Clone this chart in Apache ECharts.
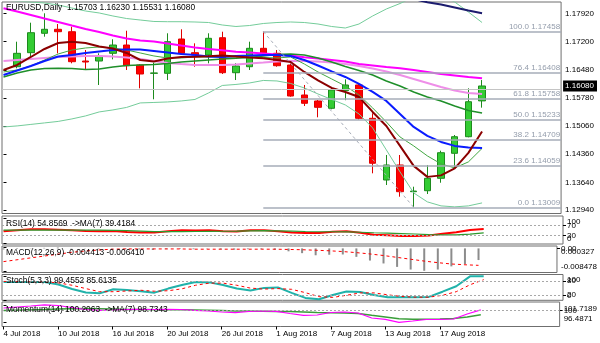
<!DOCTYPE html>
<html><head><meta charset="utf-8">
<script src="https://cdn.jsdelivr.net/npm/echarts@6/dist/echarts.min.js"></script>
<style>html,body{margin:0;padding:0;background:#fff}#c{width:600px;height:343px}</style>
</head><body><div id="c"></div>
<script>
// ---------- DATA ----------
const dateLabels = ['4 Jul 2018','10 Jul 2018','16 Jul 2018','20 Jul 2018','26 Jul 2018','1 Aug 2018','7 Aug 2018','13 Aug 2018','17 Aug 2018'];
const dateLabelBars = [0,4,8,12,16,20,24,28,32];

const open  = [null,1.16568,1.16923,1.17414,1.17515,1.17454,1.16712,1.16712,1.16907,1.17117,1.16611,1.16400,1.16401,1.17269,1.16923,1.16864,1.17302,1.16416,1.16568,1.17034,1.16907,1.16611,1.15852,1.15700,1.15515,1.15961,1.16105,1.15262,1.13700,1.14080,1.13404,1.13429,1.13743,1.14376,1.14796,1.15703];
const high  = [null,1.17201,1.17682,1.17920,1.17649,1.17581,1.16991,1.16907,1.17262,1.17479,1.16630,1.16669,1.17414,1.17515,1.17160,1.17414,1.17454,1.16654,1.17201,1.17458,1.16991,1.16654,1.16105,1.15725,1.16047,1.16249,1.16150,1.15388,1.14333,1.14333,1.13530,1.14080,1.14442,1.14839,1.16021,1.16230];
const low   = [null,1.16528,1.16821,1.17328,1.16907,1.16654,1.16502,1.16105,1.16755,1.16485,1.16021,1.15743,1.16231,1.16864,1.16568,1.16654,1.16383,1.16231,1.16485,1.16882,1.16568,1.15809,1.15573,1.15287,1.15490,1.15720,1.15230,1.13869,1.13573,1.13277,1.13009,1.13345,1.13631,1.13996,1.14781,1.15531];
const close = [null,1.16907,1.17429,1.17515,1.17454,1.16695,1.16687,1.16839,1.17117,1.16593,1.16383,1.16410,1.17201,1.16907,1.16864,1.17287,1.16416,1.16586,1.17034,1.16907,1.16593,1.15826,1.15642,1.15540,1.15978,1.16105,1.15262,1.14123,1.14080,1.13404,1.13420,1.13743,1.14391,1.14796,1.15682,1.16080];

const maMagenta = [1.18049,1.17966,1.17877,1.17788,1.17700,1.17611,1.17523,1.17447,1.17358,1.17282,1.17232,1.17206,1.17156,1.17105,1.17055,1.17017,1.16984,1.16948,1.16928,1.16903,1.16878,1.16852,1.16807,1.16776,1.16738,1.16701,1.16637,1.16599,1.16561,1.16528,1.16486,1.16435,1.16384,1.16346,1.16308,1.16276];
const maViolet  = [1.16713,1.16738,1.16764,1.16789,1.16814,1.16827,1.16840,1.16840,1.16827,1.16802,1.16764,1.16713,1.16663,1.16637,1.16612,1.16612,1.16612,1.16625,1.16650,1.16675,1.16701,1.16713,1.16713,1.16701,1.16675,1.16637,1.16587,1.16523,1.16448,1.16359,1.16258,1.16157,1.16055,1.15967,1.15904,1.15878];
const maBlue    = [1.16359,1.16473,1.16587,1.16713,1.16827,1.16865,1.16916,1.16954,1.16991,1.17004,1.17004,1.16966,1.16928,1.16890,1.16865,1.16827,1.16814,1.16840,1.16852,1.16865,1.16865,1.16840,1.16738,1.16599,1.16448,1.16308,1.16131,1.15929,1.15701,1.15372,1.15043,1.14816,1.14664,1.14563,1.14525,1.14512];
const maMaroon  = [1.16485,1.16612,1.16814,1.17017,1.17169,1.17201,1.17169,1.17080,1.17029,1.16916,1.16738,1.16701,1.16776,1.16814,1.16822,1.16835,1.16852,1.16827,1.16802,1.16782,1.16738,1.16688,1.16435,1.16220,1.16030,1.15929,1.15802,1.15423,1.15068,1.14563,1.14057,1.13779,1.13817,1.13993,1.14386,1.14930];
const maGreen   = [1.16308,1.16410,1.16485,1.16523,1.16528,1.16523,1.16498,1.16511,1.16561,1.16599,1.16612,1.16625,1.16650,1.16688,1.16713,1.16738,1.16764,1.16782,1.16802,1.16840,1.16878,1.16890,1.16865,1.16789,1.16688,1.16574,1.16473,1.16359,1.16207,1.16081,1.15929,1.15802,1.15701,1.15575,1.15461,1.15397];
const maThinGreen = [1.16435,1.16485,1.16587,1.16738,1.16890,1.16991,1.17042,1.17067,1.17042,1.16991,1.16916,1.16840,1.16789,1.16789,1.16814,1.16814,1.16814,1.16814,1.16814,1.16802,1.16789,1.16814,1.16637,1.16435,1.16258,1.16081,1.15853,1.15524,1.15170,1.14790,1.14563,1.14310,1.14108,1.14006,1.14158,1.14500];
const maNavy    = [1.1885,1.1884,1.1883,1.1882,1.1881,1.1880,1.1879,1.1878,1.1877,1.1876,1.1875,1.1874,1.1873,1.1872,1.1871,1.1870,1.1869,1.1868,1.1867,1.1866,1.1865,1.1864,1.1862,1.1860,1.1858,1.1855,1.1852,1.1848,1.1843,1.1836,1.18282,1.18201,1.18143,1.18067,1.17991,1.17920];
const bbUpper   = [1.18256,1.18231,1.18206,1.18181,1.18130,1.18054,1.17978,1.17928,1.17852,1.17788,1.17750,1.17713,1.17707,1.17707,1.17700,1.17687,1.17624,1.17586,1.17611,1.17662,1.17687,1.17700,1.17687,1.17649,1.17586,1.17548,1.17649,1.17852,1.18029,1.18168,1.18332,1.18383,1.18358,1.18206,1.17953,1.17687];
const bbLower   = [1.15043,1.15069,1.15107,1.15145,1.15183,1.15246,1.15322,1.15423,1.15474,1.15537,1.15651,1.15663,1.15676,1.15701,1.15739,1.15904,1.16093,1.16119,1.16157,1.16220,1.16207,1.16144,1.16030,1.15878,1.15739,1.15600,1.15372,1.15018,1.14462,1.13905,1.13373,1.13146,1.13045,1.13020,1.13045,1.13120];

const fibPct    = ['0.0','23.6','38.2','50.0','61.8','76.4','100.0'];
const fibLevels = [1.13009,1.14059,1.14709,1.15233,1.15758,1.16408,1.17458];
const fibHighBar = 19, fibLowBar = 30;

const priceTicks = [1.1294,1.1364,1.1436,1.1506,1.1578,1.1648,1.1720,1.1792];

const rsi   = [46,50,54,54,52,50,47,46,47,43,41,41,46,50,49,50,46,45,50,50,46,41,39,39,44,46,40,32,30,27,27,29,36,42,51,54.8569];
const rsiMa = [51,51,51,51,51,51,50.4,50.4,50,48.4,46.6,45,44.4,44.9,45.3,45.7,46.1,46.7,48,48.6,48,46.9,45.3,44.3,44.1,43.6,42.1,40.1,38.6,36.9,35.1,33,31.6,31.9,34.6,39.4184];
const rsiTicks = [0,30,70,100];
const rsiLevels = [30,70];

const macdMain = [-0.0004,-0.0002,0.0001,0.0002,0.000327,0.0001,-0.0001,-0.0002,-0.0001,-0.0002,-0.0004,-0.0006,-0.0003,-0.0002,-0.0003,-0.0001,-0.0004,-0.0005,-0.0003,-0.0003,-0.0005,-0.0011,-0.0018,-0.0026,-0.0024,-0.0023,-0.0032,-0.0046,-0.0057,-0.0070,-0.0080,-0.008478,-0.0080,-0.0068,-0.0059,-0.004413];
const macdSignal = [-0.0050,-0.0043,-0.0036,-0.0029,-0.0022,-0.0015,-0.0010,-0.0006,-0.0003,-0.0002,-0.0002,-0.0002,-0.0002,-0.0002,-0.0003,-0.0003,-0.0003,-0.0003,-0.0003,-0.0003,-0.0003,-0.0004,-0.0005,-0.0007,-0.0009,-0.0012,-0.0016,-0.0021,-0.0027,-0.0034,-0.0041,-0.0048,-0.0054,-0.0059,-0.0062,-0.006410];
const macdTicks = [-0.008478,0,0.000327];

const stochMain = [76,76,76,76,65,46,32,28,45,42,37,31,48,63,76,74,63,48,40,51,53,30,9,3,21,36,34,21,12,12,12,13,35,58,99.4,99.4552];
const stochSignal = [78,77,76,76,72,62,48,35,35,38,41,37,39,47,62,71,71,62,50,46,48,45,31,14,11,20,30,30,22,15,12,12,20,35,64,85.6135];
const stochTicks = [0,20,80,100];
const stochLevels = [20,80];

const momentum = [100.78,101.08,101.38,101.7189,101.52,100.93,100.33,100.09,100.18,100.33,100.39,100.33,100.39,100.33,100.09,99.88,99.58,99.37,99.73,99.88,99.79,99.13,98.59,98.68,99.43,99.58,99.28,97.79,97.40,96.4871,96.89,97.34,97.40,97.49,98.98,100.2063];
const momentumMa = [100.0,100.1,100.2,100.3,100.45,100.55,100.6,100.55,100.45,100.35,100.3,100.25,100.25,100.25,100.2,100.1,100.0,99.9,99.85,99.8,99.75,99.7,99.55,99.4,99.35,99.3,99.13,98.6,98.09,97.58,97.4,97.4,97.49,97.64,98.09,98.7343];
const momTicks = [96.4871,100,101.7189];
const momLevels = [100];

// ---------- CHART ----------
const FONT = '"Liberation Sans", Arial, sans-serif';
const last = close.length - 1;
const xMin = -0.11, xMax = 40.78;
const pairs = a => a.map((v,i) => v == null ? null : [i, v]).filter(Boolean);

const gridDefs = [
  {top: 2, height: 211.5},
  {top: 216, height: 28},
  {top: 246, height: 26.5},
  {top: 274.5, height: 25.8},
  {top: 302, height: 24.5}
];
const grids = gridDefs.map(g => Object.assign({left: 2, width: 561, show: true, borderColor: '#6f6f6f', borderWidth: 1, backgroundColor: '#fff'}, g));

const xAxes = grids.map((g, i) => {
  const isLast = i === grids.length - 1;
  return {
    type: 'value', gridIndex: i, min: xMin, max: xMax,
    axisLine: {show: false}, splitLine: {show: false},
    axisTick: isLast ? {show: true, customValues: dateLabelBars, length: 3, lineStyle: {color: '#000'}} : {show: false},
    axisLabel: isLast ? {show: true, customValues: dateLabelBars, showMinLabel: true, showMaxLabel: true,
      formatter: v => dateLabels[dateLabelBars.indexOf(Math.round(v))] || '',
      align: 'left', margin: 3, fontSize: 8, color: '#000', fontFamily: FONT} : {show: false}
  };
});

function yAx(gridIndex, min, max, ticks, fmt, extraLabel) {
  return {
    type: 'value', gridIndex, position: 'right', min, max,
    axisLine: {show: false}, splitLine: {show: false},
    axisTick: {show: true, customValues: ticks, length: 3, lineStyle: {color: '#000'}},
    axisLabel: Object.assign({show: true, customValues: ticks, formatter: fmt, margin: 4,
      showMinLabel: true, showMaxLabel: true, hideOverlap: false,
      fontSize: 8, color: '#000', fontFamily: FONT}, extraLabel || {})
  };
}
const edgeAlign = {verticalAlignMinLabel: 'bottom', verticalAlignMaxLabel: 'top'};
const ends = t => [t[0], t[t.length - 1]];
const mids = t => t.slice(1, -1);
const macdFmt = v => v === 0 ? '0.00' : v.toFixed(6);
const yAxes = [
  yAx(0, 1.12852, 1.18206, priceTicks, v => v.toFixed(5)),                           // 0 price
  {type: 'value', gridIndex: 0, position: 'right', min: 1.12852, max: 1.18206,         // 1 bid box
   axisLine: {show: false}, splitLine: {show: false}, axisTick: {show: false},
   axisLabel: {show: true, customValues: [close[last]], formatter: v => v.toFixed(5), margin: 2,
     showMinLabel: true, showMaxLabel: true,
     backgroundColor: '#000', color: '#fff', padding: [2, 3, 1, 2], fontSize: 8, fontFamily: FONT}},
  yAx(1, -4.8, 107.2, ends(rsiTicks), v => String(v), edgeAlign),                     // 2 rsi
  yAx(1, -4.8, 107.2, mids(rsiTicks), v => String(v)),                                // 3
  yAx(2, -0.009122, 0.000908, ends(macdTicks), macdFmt, edgeAlign),                   // 4 macd
  yAx(2, -0.009122, 0.000908, mids(macdTicks), macdFmt),                              // 5
  yAx(3, -1.1, 107.1, ends(stochTicks), v => String(v), edgeAlign),                   // 6 stoch
  yAx(3, -1.1, 107.1, mids(stochTicks), v => String(v)),                              // 7
  yAx(4, 95.247, 102.571, ends(momTicks), v => String(v), edgeAlign),                 // 8 momentum
  yAx(4, 95.247, 102.571, mids(momTicks), v => String(v))                             // 9
];

function line(arr, color, width, xi, yi, extra) {
  return Object.assign({type: 'line', data: pairs(arr), xAxisIndex: xi, yAxisIndex: yi,
    symbol: 'none', showSymbol: false, silent: true, z: 3,
    lineStyle: {color, width}, itemStyle: {color}}, extra || {});
}
function levels(vals, xi, yi) {
  return {type: 'line', data: [], xAxisIndex: xi, yAxisIndex: yi, z: 1, silent: true,
    markLine: {silent: true, symbol: ['none', 'none'], animation: false, label: {show: false},
      lineStyle: {color: '#a8a8a8', width: 1, type: [2, 2]},
      data: vals.map(v => ({yAxis: v}))}};
}

const candleData = [];
for (let i = 0; i < close.length; i++) {
  if (close[i] == null) continue;
  candleData.push([i, open[i], close[i], low[i], high[i]]);
}

const series = [
  {type: 'line', data: [], xAxisIndex: 0, yAxisIndex: 0, z: 1, silent: true,
   markLine: {silent: true, symbol: ['none', 'none'], animation: false, label: {show: false},
     lineStyle: {color: '#c4c4c4', width: 1, type: 'solid'}, data: [{yAxis: close[last]}]}},
  {type: 'line', data: [], xAxisIndex: 0, yAxisIndex: 0, z: 1, silent: true,
   markLine: {silent: true, symbol: ['none', 'none'], animation: false,
     lineStyle: {color: '#a6acb8', width: 1.5, type: 'solid'},
     label: {show: true, position: 'insideEndTop', formatter: '{b}', color: '#939cab', fontSize: 8, fontFamily: FONT, distance: 1},
     data: fibLevels.map((lv, k) => [{coord: [fibHighBar, lv], name: fibPct[k] + ' ' + lv.toFixed(5)}, {coord: [xMax, lv]}])}},
  {type: 'line', data: [], xAxisIndex: 0, yAxisIndex: 0, z: 1, silent: true,
   markLine: {silent: true, symbol: ['none', 'none'], animation: false, label: {show: false},
     lineStyle: {color: '#a6acb8', width: 1, type: [3, 3]},
     data: [[{coord: [fibHighBar, fibLevels[fibLevels.length - 1]]}, {coord: [fibLowBar, fibLevels[0]]}]]}},
  {type: 'candlestick', xAxisIndex: 0, yAxisIndex: 0, data: candleData, encode: {x: 0, y: [1, 2, 3, 4]},
   barWidth: 7, z: 2, silent: true,
   itemStyle: {color: '#33cc33', color0: '#ff0000', borderColor: '#1d8a1d', borderColor0: '#e00000', borderWidth: 1}},
  line(bbUpper, '#74cc9a', 1, 0, 0),
  line(bbLower, '#74cc9a', 1, 0, 0),
  line(maNavy, '#1c1c6e', 2, 0, 0),
  line(maViolet, '#ee8ee8', 2, 0, 0),
  line(maMagenta, '#ff00ff', 2, 0, 0),
  line(maGreen, '#1f8f2a', 1.5, 0, 0),
  line(maThinGreen, '#43a843', 1, 0, 0),
  line(maBlue, '#0a1cff', 2, 0, 0),
  line(maMaroon, '#8b0000', 2, 0, 0),
  // RSI
  levels(rsiLevels, 1, 2),
  line(rsi, '#ff0000', 2, 1, 2),
  line(rsiMa, '#2e9a2e', 1.2, 1, 2),
  // MACD
  {type: 'bar', xAxisIndex: 2, yAxisIndex: 4, data: pairs(macdMain), barWidth: 2, silent: true, z: 2,
   itemStyle: {color: '#8c8c8c'}},
  line(macdSignal, '#ff0000', 1, 2, 4, {lineStyle: {color: '#ff0000', width: 1, type: [3, 3]}}),
  // Stochastic
  levels(stochLevels, 3, 6),
  line(stochMain, '#20b2aa', 2, 3, 6),
  line(stochSignal, '#ff0000', 1, 3, 6, {lineStyle: {color: '#ff0000', width: 1, type: [3, 3]}}),
  // Momentum
  levels(momLevels, 4, 8),
  line(momentumMa, '#3a9e3a', 1.5, 4, 8),
  line(momentum, '#ff00ff', 1.2, 4, 8)
];

const TS = {fontSize: 8.4, fontWeight: 'normal', color: '#000', fontFamily: FONT};
const titles = [
  {text: 'EURUSD,Daily  ' + [open[last], high[last], low[last], close[last]].map(v => v.toFixed(5)).join(' '), top: 3.5},
  {text: 'RSI(14) ' + rsi[last].toFixed(4) + '  ->MA(7) ' + rsiMa[last].toFixed(4), top: 219.5},
  {text: 'MACD(12,26,9) ' + macdMain[last].toFixed(6) + ' ' + macdSignal[last].toFixed(6), top: 248.5},
  {text: 'Stoch(5,3,3) ' + stochMain[last].toFixed(4) + ' ' + stochSignal[last].toFixed(4), top: 277},
  {text: 'Momentum(14) ' + momentum[last].toFixed(4) + '  ->MA(7) ' + momentumMa[last].toFixed(4), top: 305.5}
].map(t => Object.assign({left: 6, padding: 0, textStyle: TS}, t));

const chart = echarts.init(document.getElementById('c'), null, {renderer: 'canvas'});
chart.setOption({
  animation: false,
  backgroundColor: '#fff',
  title: titles,
  grid: grids,
  xAxis: xAxes,
  yAxis: yAxes,
  series
});
</script>
</body></html>
